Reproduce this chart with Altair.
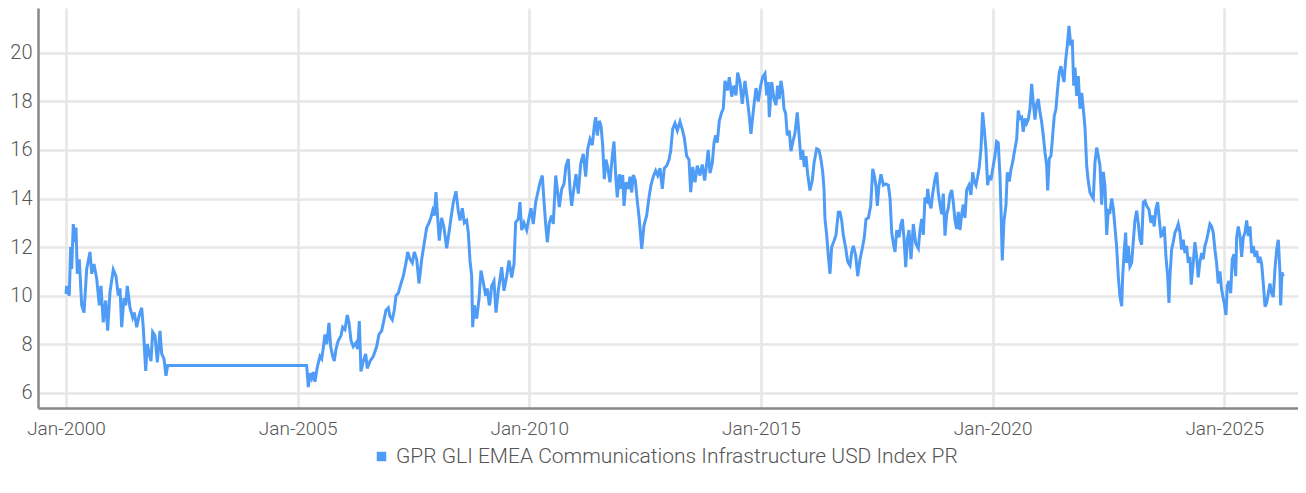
import altair as alt
import pandas as pd

series_name = "GPR GLI EMEA Communications Infrastructure USD Index PR"

# decimal years
years = [
    2000.000, 2000.015, 2000.071, 2000.101, 2000.123, 2000.158, 2000.194, 2000.216, 2000.244, 2000.287,
    2000.339, 2000.389, 2000.447, 2000.518, 2000.555, 2000.604, 2000.663, 2000.719, 2000.755, 2000.805,
    2000.857, 2000.900, 2000.950, 2001.021, 2001.079, 2001.129, 2001.166, 2001.202, 2001.252, 2001.289,
    2001.323, 2001.381, 2001.440, 2001.474, 2001.526, 2001.582, 2001.634, 2001.668, 2001.720, 2001.755,
    2001.798, 2001.835, 2001.871, 2001.921, 2001.971, 2002.029, 2002.066, 2002.115, 2002.158, 2002.195,
    2005.195,
    2005.230, 2005.267, 2005.303, 2005.338, 2005.374, 2005.424, 2005.482, 2005.519, 2005.554, 2005.590,
    2005.627, 2005.677, 2005.713, 2005.757, 2005.791, 2005.828, 2005.877, 2005.936, 2005.972, 2006.022,
    2006.071, 2006.108, 2006.152, 2006.201, 2006.259, 2006.296, 2006.331, 2006.367, 2006.417, 2006.469,
    2006.503, 2006.562, 2006.633, 2006.706, 2006.756, 2006.814, 2006.864, 2006.907, 2006.957, 2006.993,
    2007.043, 2007.086, 2007.123, 2007.172, 2007.224, 2007.280, 2007.339, 2007.375, 2007.425, 2007.475,
    2007.518, 2007.570, 2007.619, 2007.678, 2007.727, 2007.785, 2007.835, 2007.878, 2007.915, 2007.949,
    2007.986, 2008.023, 2008.057, 2008.109, 2008.159, 2008.217, 2008.267, 2008.310, 2008.360, 2008.418,
    2008.467, 2008.504, 2008.554, 2008.597, 2008.649, 2008.683, 2008.720, 2008.757, 2008.778, 2008.813,
    2008.865, 2008.914, 2008.957, 2009.007, 2009.059, 2009.093, 2009.137,
    2009.152, 2009.188, 2009.238, 2009.281, 2009.331, 2009.404, 2009.454, 2009.512, 2009.562, 2009.620,
    2009.670, 2009.706, 2009.762, 2009.799, 2009.836, 2009.885, 2009.944, 2009.993, 2010.037, 2010.086,
    2010.138, 2010.194, 2010.231, 2010.281, 2010.317, 2010.354, 2010.389, 2010.432, 2010.484, 2010.518,
    2010.570, 2010.613, 2010.648, 2010.700, 2010.749, 2010.792, 2010.842, 2010.878, 2010.915, 2010.950,
    2011.008, 2011.058, 2011.109, 2011.166, 2011.217, 2011.261, 2011.310, 2011.360, 2011.403, 2011.433,
    2011.468, 2011.511, 2011.548, 2011.584, 2011.619, 2011.655, 2011.692, 2011.742, 2011.791, 2011.828,
    2011.865, 2011.899, 2011.943, 2011.979, 2012.016, 2012.044, 2012.087, 2012.137, 2012.173, 2012.210,
    2012.245, 2012.288, 2012.331, 2012.374, 2012.426, 2012.476, 2012.534, 2012.584, 2012.627, 2012.676,
    2012.728, 2012.772, 2012.821, 2012.871, 2012.914, 2012.966, 2013.016, 2013.052, 2013.095, 2013.145,
    2013.195, 2013.253, 2013.302, 2013.346, 2013.397, 2013.447, 2013.484, 2013.527, 2013.576, 2013.626,
    2013.684, 2013.734, 2013.786, 2013.829, 2013.863, 2013.900, 2013.950, 2013.987, 2014.023, 2014.058,
    2014.101, 2014.153, 2014.187, 2014.224, 2014.274, 2014.317, 2014.369, 2014.418, 2014.461, 2014.498,
    2014.548, 2014.597, 2014.655, 2014.705, 2014.748, 2014.785, 2014.835, 2014.893, 2014.942, 2014.994,
    2015.037, 2015.087, 2015.124, 2015.158, 2015.180, 2015.232, 2015.281, 2015.324, 2015.361, 2015.395,
    2015.432, 2015.469, 2015.497, 2015.534, 2015.568, 2015.612, 2015.648, 2015.685, 2015.735, 2015.784,
    2015.828, 2015.864, 2015.901, 2015.935, 2015.972, 2016.009, 2016.058, 2016.108, 2016.145, 2016.203,
    2016.253, 2016.296, 2016.333, 2016.361, 2016.382, 2016.419, 2016.454, 2016.490, 2016.527, 2016.577,
    2016.620, 2016.670, 2016.706, 2016.743, 2016.778, 2016.830, 2016.873, 2016.923, 2016.959, 2016.994,
    2017.046, 2017.089, 2017.139, 2017.188, 2017.231, 2017.268, 2017.318, 2017.369, 2017.413, 2017.447,
    2017.484, 2017.512, 2017.549, 2017.592, 2017.642, 2017.694, 2017.750, 2017.787, 2017.823, 2017.858,
    2017.894, 2017.931, 2017.981, 2018.017, 2018.052, 2018.088, 2018.125, 2018.160, 2018.196, 2018.239,
    2018.289, 2018.341, 2018.397, 2018.433, 2018.470, 2018.505, 2018.541, 2018.578, 2018.600, 2018.634,
    2018.671, 2018.707, 2018.757, 2018.794, 2018.828, 2018.865, 2018.902, 2018.936, 2018.973, 2019.009,
    2019.044, 2019.080, 2019.117, 2019.152, 2019.188, 2019.225, 2019.259, 2019.296, 2019.333, 2019.367,
    2019.404, 2019.440, 2019.490, 2019.533, 2019.570, 2019.604, 2019.641, 2019.677, 2019.712, 2019.749,
    2019.785, 2019.820, 2019.856, 2019.893, 2019.927, 2019.964, 2020.014, 2020.051, 2020.087, 2020.122,
    2020.159, 2020.181, 2020.209, 2020.245, 2020.289, 2020.317, 2020.360, 2020.397, 2020.433, 2020.468,
    2020.520, 2020.554, 2020.591, 2020.628, 2020.662, 2020.699, 2020.735, 2020.770, 2020.807, 2020.843,
    2020.878, 2020.915, 2020.951, 2020.986, 2021.023, 2021.059, 2021.094, 2021.131, 2021.167, 2021.189,
    2021.224, 2021.260, 2021.297, 2021.331, 2021.368, 2021.396, 2021.439, 2021.476, 2021.513, 2021.541,
    2021.577, 2021.612, 2021.649, 2021.686, 2021.720, 2021.751, 2021.779, 2021.815, 2021.850, 2021.887,
    2021.923, 2021.958, 2021.995, 2022.031, 2022.066, 2022.103, 2022.139, 2022.174, 2022.210, 2022.247,
    2022.282, 2022.318, 2022.355, 2022.390, 2022.426, 2022.463, 2022.497, 2022.534, 2022.571, 2022.605,
    2022.642, 2022.678, 2022.713, 2022.749, 2022.786, 2022.808, 2022.842, 2022.873, 2022.894, 2022.929,
    2022.964, 2023.002, 2023.036, 2023.073, 2023.109, 2023.144, 2023.181, 2023.217, 2023.252, 2023.289,
    2023.325, 2023.375, 2023.418, 2023.455, 2023.489, 2023.526, 2023.563, 2023.597, 2023.634, 2023.671,
    2023.705, 2023.742, 2023.779, 2023.807, 2023.828, 2023.865, 2023.899, 2023.936, 2023.973, 2024.007,
    2024.044, 2024.081, 2024.115, 2024.152, 2024.188, 2024.223, 2024.259, 2024.287, 2024.324, 2024.367,
    2024.404, 2024.438, 2024.475, 2024.512, 2024.546, 2024.583, 2024.620, 2024.654, 2024.691, 2024.728,
    2024.762, 2024.799, 2024.835, 2024.870, 2024.907, 2024.943, 2024.978, 2025.000, 2025.037, 2025.065,
    2025.102, 2025.139, 2025.173, 2025.210, 2025.247, 2025.268, 2025.303, 2025.340, 2025.376, 2025.411,
    2025.448, 2025.484, 2025.519, 2025.556, 2025.592, 2025.627, 2025.664, 2025.700, 2025.735, 2025.771,
    2025.808, 2025.843, 2025.880, 2025.916, 2025.951, 2025.987, 2026.024, 2026.059, 2026.095, 2026.132,
    2026.167, 2026.203, 2026.218, 2026.246, 2026.274,
]

values = [
    10.07, 10.4, 10.0, 12.0, 11.1, 12.95, 12.2, 12.8, 10.9, 11.5,
    9.6, 9.3, 11.1, 11.8, 10.9, 11.3, 10.7, 9.6, 10.4, 8.9,
    9.8, 8.56, 10.15, 11.07, 10.8, 10.0, 10.3, 8.7, 9.9, 9.6,
    10.4, 9.5, 9.1, 9.3, 8.7, 9.2, 9.5, 8.7, 6.9, 8.0,
    7.6, 7.3, 8.5, 8.35, 7.25, 8.55, 7.6, 7.4, 6.7, 7.12,
    7.12,
    6.23, 6.8, 6.6, 6.85, 6.45, 7.05, 7.5, 7.4, 7.85, 8.4,
    8.0, 8.88, 7.9, 7.5, 7.3, 7.8, 8.15, 8.35, 8.7, 8.6,
    9.2, 8.9, 8.15, 7.9, 8.05, 7.8, 8.95, 6.88, 7.3, 7.6,
    7.0, 7.3, 7.5, 7.9, 8.4, 8.55, 9.0, 9.4, 9.5, 9.15,
    9.0, 9.4, 10.0, 10.1, 10.45, 10.8, 11.35, 11.8, 11.5, 11.35,
    11.8, 11.5, 10.5, 11.5, 12.1, 12.8, 13.0, 13.23, 13.5, 13.3,
    14.26, 13.2, 12.27, 13.2, 12.8, 11.95, 12.6, 13.2, 13.85, 14.3,
    13.5, 13.1, 13.6, 13.0, 13.1, 12.6, 11.45, 10.8, 8.7, 9.6,
    9.05, 9.85, 11.03, 10.55, 10.0, 10.3, 9.6,
    9.73, 10.4, 10.6, 9.3, 10.2, 11.17, 10.2, 10.8, 11.45, 10.75,
    11.3, 13.02, 13.15, 13.85, 12.7, 13.0, 12.7, 13.2, 13.6, 12.95,
    13.85, 14.33, 14.65, 14.95, 13.9, 12.95, 12.2, 13.0, 13.3, 12.95,
    14.95, 14.25, 13.65, 14.4, 14.6, 15.35, 15.63, 14.4, 13.7, 14.25,
    15.0, 14.2, 15.42, 15.84, 14.9, 16.04, 16.45, 16.2, 17.0, 17.35,
    16.6, 17.2, 17.0, 16.2, 14.8, 15.6, 15.3, 14.67, 15.75, 16.35,
    14.95, 14.05, 15.0, 14.4, 14.97, 13.7, 14.67, 14.4, 14.9, 14.25,
    14.97, 14.75, 13.9, 13.15, 11.93, 12.9, 13.3, 14.05, 14.55, 14.9,
    15.15, 14.95, 15.25, 14.4, 15.25, 15.35, 15.6, 15.97, 16.86, 17.1,
    16.8, 17.17, 16.85, 16.5, 15.75, 15.6, 14.26, 15.3, 14.67, 15.35,
    14.95, 15.4, 14.74, 15.45, 16.0, 15.05, 15.45, 16.3, 16.6, 16.3,
    17.2, 17.55, 17.7, 18.85, 18.45, 19.0, 18.2, 18.65, 18.25, 19.19,
    18.8, 17.9, 18.85, 18.1, 17.4, 16.66, 17.6, 18.55, 18.0, 18.65,
    19.0, 19.15, 18.25, 18.8, 17.35, 18.8, 18.1, 17.85, 18.65, 18.1,
    18.85, 18.4, 17.7, 17.5, 16.6, 16.8, 15.95, 16.3, 16.7, 17.55,
    16.5, 15.6, 16.0, 15.3, 15.75, 15.0, 14.33, 14.74, 15.45, 16.05,
    16.0, 15.6, 15.1, 14.4, 13.16, 12.5, 11.65, 10.9, 12.0, 12.25,
    12.5, 13.43, 13.43, 13.1, 12.5, 11.95, 11.4, 11.24, 11.8, 12.05,
    11.65, 10.8, 11.5, 11.95, 12.4, 13.15, 13.2, 13.7, 15.22, 14.95,
    14.5, 13.7, 14.55, 15.0, 14.55, 14.6, 14.55, 14.0, 12.6, 12.15,
    11.8, 12.7, 12.4, 12.9, 13.15, 12.35, 11.17, 12.3, 12.7, 11.5,
    12.95, 12.15, 11.95, 12.7, 13.16, 12.5, 14.05, 13.8, 14.4, 13.85,
    13.6, 14.2, 14.8, 15.08, 14.25, 13.75, 13.35, 14.2, 12.47, 13.35,
    13.6, 14.15, 14.35, 13.85, 13.1, 12.75, 13.45, 12.7, 13.35, 13.75,
    13.2, 14.35, 14.55, 14.15, 15.08, 14.7, 14.55, 14.9, 15.3, 16.04,
    17.55, 16.85, 16.04, 14.55, 14.95, 14.75, 15.35, 15.75, 16.35, 16.3,
    14.95, 13.6, 11.45, 13.05, 13.75, 15.08, 14.7, 15.2, 15.5, 15.9,
    16.45, 17.62, 17.3, 17.35, 16.75, 17.3, 17.1, 17.25, 17.7, 18.72,
    17.95, 17.25, 17.9, 18.1, 17.55, 17.15, 16.6, 15.9, 15.35, 14.33,
    15.65, 15.75, 16.6, 17.4, 17.7, 18.35, 19.2, 19.45, 19.05, 18.8,
    19.7, 20.29, 21.11, 20.3, 20.55, 18.65, 19.4, 18.23, 19.05, 17.7,
    18.35, 17.7, 16.9, 15.35, 14.7, 14.25, 14.1, 14.0, 15.5, 16.1,
    15.75, 15.35, 13.75, 15.1, 14.5, 12.5, 13.5, 13.45, 14.0, 13.6,
    12.8, 12.0, 10.8, 9.97, 9.56, 10.8, 11.9, 12.6, 11.35, 12.05,
    11.2, 11.35, 12.2, 13.1, 13.5, 13.0, 12.3, 12.1, 13.85, 13.9,
    13.7, 13.55, 13.0, 13.3, 12.85, 13.6, 13.85, 13.15, 12.45, 12.5,
    12.85, 11.6, 10.8, 9.7, 10.8, 11.9, 12.2, 12.6, 12.75, 12.95,
    12.6, 11.9, 12.3, 11.75, 12.05, 11.35, 11.6, 10.45, 11.2, 12.2,
    11.6, 10.75, 11.4, 11.75, 11.5, 12.05, 12.3, 12.6, 12.95, 12.85,
    12.6, 11.9, 11.35, 10.5, 11.0, 10.25, 9.9, 9.7, 9.2, 10.4,
    10.6, 10.1, 11.5, 11.7, 10.8, 12.4, 12.85, 12.45, 11.6, 12.4,
    12.6, 13.1, 12.45, 12.85, 11.75, 12.05, 11.6, 11.85, 11.35, 11.6,
    11.3, 10.5, 9.55, 9.7, 10.1, 10.5, 10.1, 9.95, 11.1, 11.9,
    12.3, 10.95, 9.6, 10.95, 10.8,
]

x_ticks = [2000, 2005, 2010, 2015, 2020, 2025]
y_ticks = [6, 8, 10, 12, 14, 16, 18, 20]

df = pd.DataFrame({"year": years, "value": values})
df["series"] = series_name

FONT = "Roboto"
LINE = "#4f9cf7"
TXT = "#555555"

chart = (
    alt.Chart(df)
    .mark_line(strokeWidth=3)
    .encode(
        x=alt.X(
            "year:Q",
            scale=alt.Scale(domain=[1999.396, 2026.592], nice=False, zero=False),
            axis=alt.Axis(
                values=x_ticks,
                labelExpr="'Jan-' + datum.value",
                title=None,
                ticks=False,
                labelPadding=11,
                labelFontSize=19,
                labelFont=FONT,
                labelFontWeight=300,
                labelColor=TXT,
                domainColor="#888888",
                domainWidth=2.5,
                gridColor="#e6e6e6",
                gridWidth=2.5,
                labelFlush=False,
            ),
        ),
        y=alt.Y(
            "value:Q",
            scale=alt.Scale(domain=[5.37, 21.85], nice=False, zero=False),
            axis=alt.Axis(
                values=y_ticks,
                title=None,
                ticks=False,
                labelPadding=6,
                labelFontSize=20,
                labelFont=FONT,
                labelFontWeight=300,
                labelColor=TXT,
                domainColor="#888888",
                domainWidth=2.5,
                gridColor="#e6e6e6",
                gridWidth=2.5,
            ),
        ),
        color=alt.Color(
            "series:N",
            scale=alt.Scale(range=[LINE]),
            legend=alt.Legend(
                title=None,
                orient="none",
                legendX=333,
                legendY=438,
                symbolType="square",
                symbolSize=90,
                symbolFillColor=LINE,
                symbolStrokeColor=LINE,
                symbolStrokeWidth=0,
                labelFont=FONT,
                labelFontSize=21,
                labelFontWeight=300,
                labelColor=TXT,
                labelOffset=4,
                labelLimit=1000,
            ),
        ),
    )
    .properties(
        width=1260,
        height=400,
        autosize=alt.AutoSizeParams(type="none"),
        padding={"left": 30, "top": 0, "right": 0, "bottom": 70},
    )
    .configure_view(stroke=None)
)

chart.save("out.html", embed_options={"renderer": "svg", "actions": False})
